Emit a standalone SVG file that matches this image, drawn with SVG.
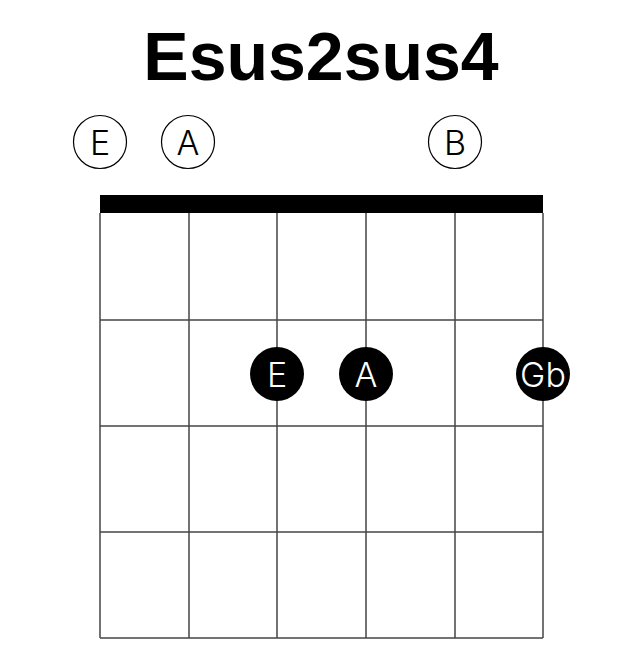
<svg xmlns="http://www.w3.org/2000/svg" width="644" height="656" viewBox="0 0 644 656">
<style>
.title{font-family:"Liberation Sans",Arial,sans-serif;font-weight:bold;font-size:68px;fill:#000;text-anchor:middle}
.lbl{font-family:Inter,"Liberation Sans",sans-serif;font-weight:300;font-size:34px;text-anchor:middle;dominant-baseline:central}
.open{fill:#fff;stroke:#000;stroke-width:1.2}
.open-t{fill:#000}
.fret{fill:#000}
.fret-t{fill:#fff}
.grid line{stroke:#444;stroke-width:1.5}
</style>
<rect width="644" height="656" fill="#fff"/>
<text class="title" x="321" y="80">Esus2sus4</text>
<g id="grid" class="grid">
<rect x="100" y="195" width="443" height="18" fill="#000"/>
<line x1="100" y1="213" x2="100" y2="638"/>
<line x1="189" y1="213" x2="189" y2="638"/>
<line x1="277" y1="213" x2="277" y2="638"/>
<line x1="366" y1="213" x2="366" y2="638"/>
<line x1="455" y1="213" x2="455" y2="638"/>
<line x1="543" y1="213" x2="543" y2="638"/>
<line x1="100" y1="320" x2="543" y2="320"/>
<line x1="100" y1="426" x2="543" y2="426"/>
<line x1="100" y1="532" x2="543" y2="532"/>
<line x1="100" y1="638" x2="543" y2="638"/>
</g>
<g id="open-E"><circle class="open" cx="100" cy="142" r="26.5"/><text class="lbl open-t" x="100" y="142">E</text></g>
<g id="open-A"><circle class="open" cx="188" cy="142" r="26.5"/><text class="lbl open-t" x="188" y="142">A</text></g>
<g id="open-B"><circle class="open" cx="455" cy="142" r="26.5"/><text class="lbl open-t" x="455" y="142">B</text></g>
<g id="fret-E"><circle class="fret" cx="277" cy="374" r="27"/><text class="lbl fret-t" x="277" y="374">E</text></g>
<g id="fret-A"><circle class="fret" cx="366" cy="374" r="27"/><text class="lbl fret-t" x="366" y="374">A</text></g>
<g id="fret-Gb"><circle class="fret" cx="543" cy="374" r="27"/><text class="lbl fret-t" x="543" y="374">Gb</text></g>
</svg>
